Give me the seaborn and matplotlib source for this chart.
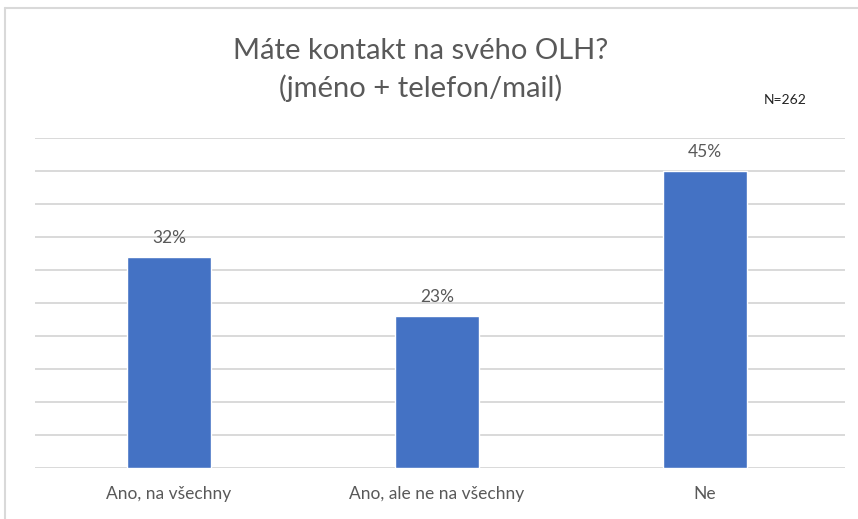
import matplotlib
matplotlib.use("Agg")
import matplotlib.pyplot as plt
import seaborn as sns
import numpy as np

# data
categories = ["Ano, na všechny", "Ano, ale ne na všechny", "Ne"]
percents = [32, 23, 45]
title_text = "Máte kontakt na svého OLH?\n(jméno + telefon/mail)"
n_label = "N=262"

sns.set_style("white")
plt.rcParams['font.family'] = ['Lato', 'DejaVu Sans']

fig = plt.figure(figsize=(8.58, 5.19), dpi=100)
ax = fig.add_axes([35/858, 1 - 468/519, 810/858, (468 - 138)/519])

sns.barplot(x=categories, y=percents, color="#4472C4", width=0.31,
            saturation=1, ax=ax, zorder=3)

# category slots ~268 px wide, gridlines run a bit past the last one
ax.set_xlim(-0.5, 2.5 + 6/268)
ax.set_ylim(0, 50)
ax.set_yticks(np.arange(0, 51, 5))
ax.set_yticklabels([])
ax.tick_params(axis="both", length=0)
ax.tick_params(axis="x", labelsize=12.5, labelcolor="#595959", pad=13)
ax.grid(axis="y", color="#D9D9D9", linewidth=1.4, zorder=0)
ax.set_axisbelow(True)
for s in ax.spines.values():
    s.set_visible(False)
ax.set_xlabel("")
ax.set_ylabel("")

ax.bar_label(ax.containers[0], labels=[f"{v}%" for v in percents],
             padding=8, fontsize=12.5, color="#595959")

fig.text(421/858, 1 - 70/519, title_text, ha="center", va="center",
         fontsize=21, color="#595959", linespacing=1.5)
fig.text(785/858, 1 - 100/519, n_label, ha="center", va="center",
         fontsize=10, color="#222222")

# light frame of the original chart box
fig.add_artist(plt.Line2D([5/858, 5/858], [0, 1 - 8/519], transform=fig.transFigure,
                          color="#D9D9D9", linewidth=1.5))
fig.add_artist(plt.Line2D([5/858, 1], [1 - 8/519, 1 - 8/519], transform=fig.transFigure,
                          color="#D9D9D9", linewidth=1.5))

fig.savefig("out.png", dpi=100)
